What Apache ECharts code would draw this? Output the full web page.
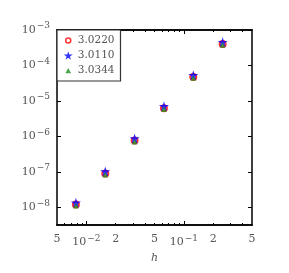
<!DOCTYPE html>
<html><head><meta charset="utf-8">
<script src="https://cdn.jsdelivr.net/npm/echarts@6/dist/echarts.min.js"></script>
<style>html,body{margin:0;padding:0;background:#fff}#c{width:289px;height:273px}</style>
</head><body><div id="c"></div>
<script>
const h = [1/128, 1/64, 1/32, 1/16, 1/8, 1/4];
const seriesNames = ['3.0220', '3.0110', '3.0344'];
const errCircle = [1.2e-8, 8.9e-8, 7.6e-7, 6.2e-6, 4.7e-5, 4.0e-4];
const errStar = [1.35e-8, 1.02e-7, 8.7e-7, 7.1e-6, 5.3e-5, 4.57e-4];
const errTriangle = [1.1e-8, 8.3e-8, 7.1e-7, 5.8e-6, 4.4e-5, 3.76e-4];
const xTickValues = [0.005, 0.01, 0.02, 0.05, 0.1, 0.2, 0.5];
const xTickLabels = ['5', '10{sup|−2}', '2', '5', '10{sup|−1}', '2', '5'];
const xMajorTicks = [0.01, 0.1];
const xMinorTicks = [0.006,0.007,0.008,0.009,0.02,0.03,0.04,0.05,0.06,0.07,0.08,0.09,0.2,0.3,0.4];
const yTickValues = [1e-8, 1e-7, 1e-6, 1e-5, 1e-4, 1e-3];
const yTickLabels = ['10{sup|−8}','10{sup|−7}','10{sup|−6}','10{sup|−5}','10{sup|−4}','10{sup|−3}'];

const font = 'DejaVu Serif';
const grey = '#555';
const rich = {sup: {fontSize: 9, fontFamily: font, color: grey, verticalAlign: 'top', padding: [0,0,8,1]}};
const starPath = 'path://M50,0 L61,35 L98,35 L68,57 L79,91 L50,70 L21,91 L32,57 L2,35 L39,35 Z';
const ringPath = 'path://M0,0 M100,100 M78,50 A28,28 0 1,1 22,50 A28,28 0 1,1 78,50 Z';
const triPath = 'path://M0,0 M100,100 M50,22 L82,80 L18,80 Z';
const lineStyle = {color: '#000', width: 1.5};

function xAxisDef(pos, ticks, len, showLabel) {
  return {
    type: 'log', position: pos, min: 0.005, max: 0.5, logBase: 10,
    axisLine: {show: true, onZero: false, lineStyle: lineStyle},
    axisTick: {show: true, inside: true, length: len, customValues: ticks, lineStyle: {color: '#000', width: 1}},
    axisLabel: showLabel ? {show: true, customValues: xTickValues, margin: 9, fontFamily: font, fontSize: 11, color: grey, rich: rich,
      formatter: function (v) { const i = xTickValues.findIndex(t => Math.abs(Math.log10(t) - Math.log10(v)) < 1e-6); return i >= 0 ? xTickLabels[i] : ''; }} : {show: false},
    splitLine: {show: false}, minorTick: {show: false},
    name: showLabel ? 'h' : '', nameLocation: 'middle', nameGap: 22,
    nameTextStyle: {fontFamily: font, fontStyle: 'italic', fontSize: 11, color: grey}
  };
}
function yAxisDef(pos, showLabel) {
  return {
    type: 'log', position: pos, min: Math.pow(10, -8.5), max: 1e-3, logBase: 10,
    axisLine: {show: true, onZero: false, lineStyle: lineStyle},
    axisTick: {show: true, inside: true, length: 4, customValues: yTickValues, lineStyle: {color: '#000', width: 1}},
    axisLabel: showLabel ? {show: true, customValues: yTickValues, margin: 7, fontFamily: font, fontSize: 11, color: grey, rich: rich,
      formatter: function (v) { const i = yTickValues.findIndex(t => Math.abs(Math.log10(t) - Math.log10(v)) < 1e-6); return i >= 0 ? yTickLabels[i] : ''; }} : {show: false},
    splitLine: {show: false}
  };
}

const chart = echarts.init(document.getElementById('c'), null, {renderer: 'canvas'});
chart.setOption({
  animation: false,
  backgroundColor: '#fff',
  grid: {left: 57, right: 37, top: 30, bottom: 48, containLabel: false},
  xAxis: [
    xAxisDef('bottom', xMajorTicks, 4, true),
    xAxisDef('bottom', xMinorTicks, 2, false),
    xAxisDef('top', xMajorTicks, 4, false),
    xAxisDef('top', xMinorTicks, 2, false)
  ],
  yAxis: [yAxisDef('left', true), yAxisDef('right', false)],
  legend: {
    left: 57, top: 30, orient: 'vertical', itemGap: 4, itemWidth: 9, itemHeight: 9,
    backgroundColor: '#fff', borderColor: '#333', borderWidth: 1.2, padding: [5, 6, 5, 6],
    textStyle: {fontFamily: font, fontSize: 10.5, color: grey},
    data: [
      {name: seriesNames[0], icon: ringPath, itemStyle: {color: '#fff', borderColor: '#f00', borderWidth: 1.5}},
      {name: seriesNames[1], icon: starPath, itemStyle: {color: '#00f'}},
      {name: seriesNames[2], icon: triPath, itemStyle: {color: '#1f8f1f'}}
    ]
  },
  series: [
    {name: seriesNames[0], type: 'scatter', symbol: 'emptyCircle', symbolSize: 6, itemStyle: {color: '#f00', borderColor: '#f00', borderWidth: 1.3},
      data: h.map((x, i) => [x, errCircle[i]])},
    {name: seriesNames[1], type: 'scatter', symbol: starPath, symbolSize: 10, itemStyle: {color: '#00f'},
      data: h.map((x, i) => [x, errStar[i]])},
    {name: seriesNames[2], type: 'scatter', symbol: 'triangle', symbolSize: 5.5, itemStyle: {color: '#1f8f1f'},
      data: h.map((x, i) => [x, errTriangle[i]])}
  ]
});
</script>
</body></html>
